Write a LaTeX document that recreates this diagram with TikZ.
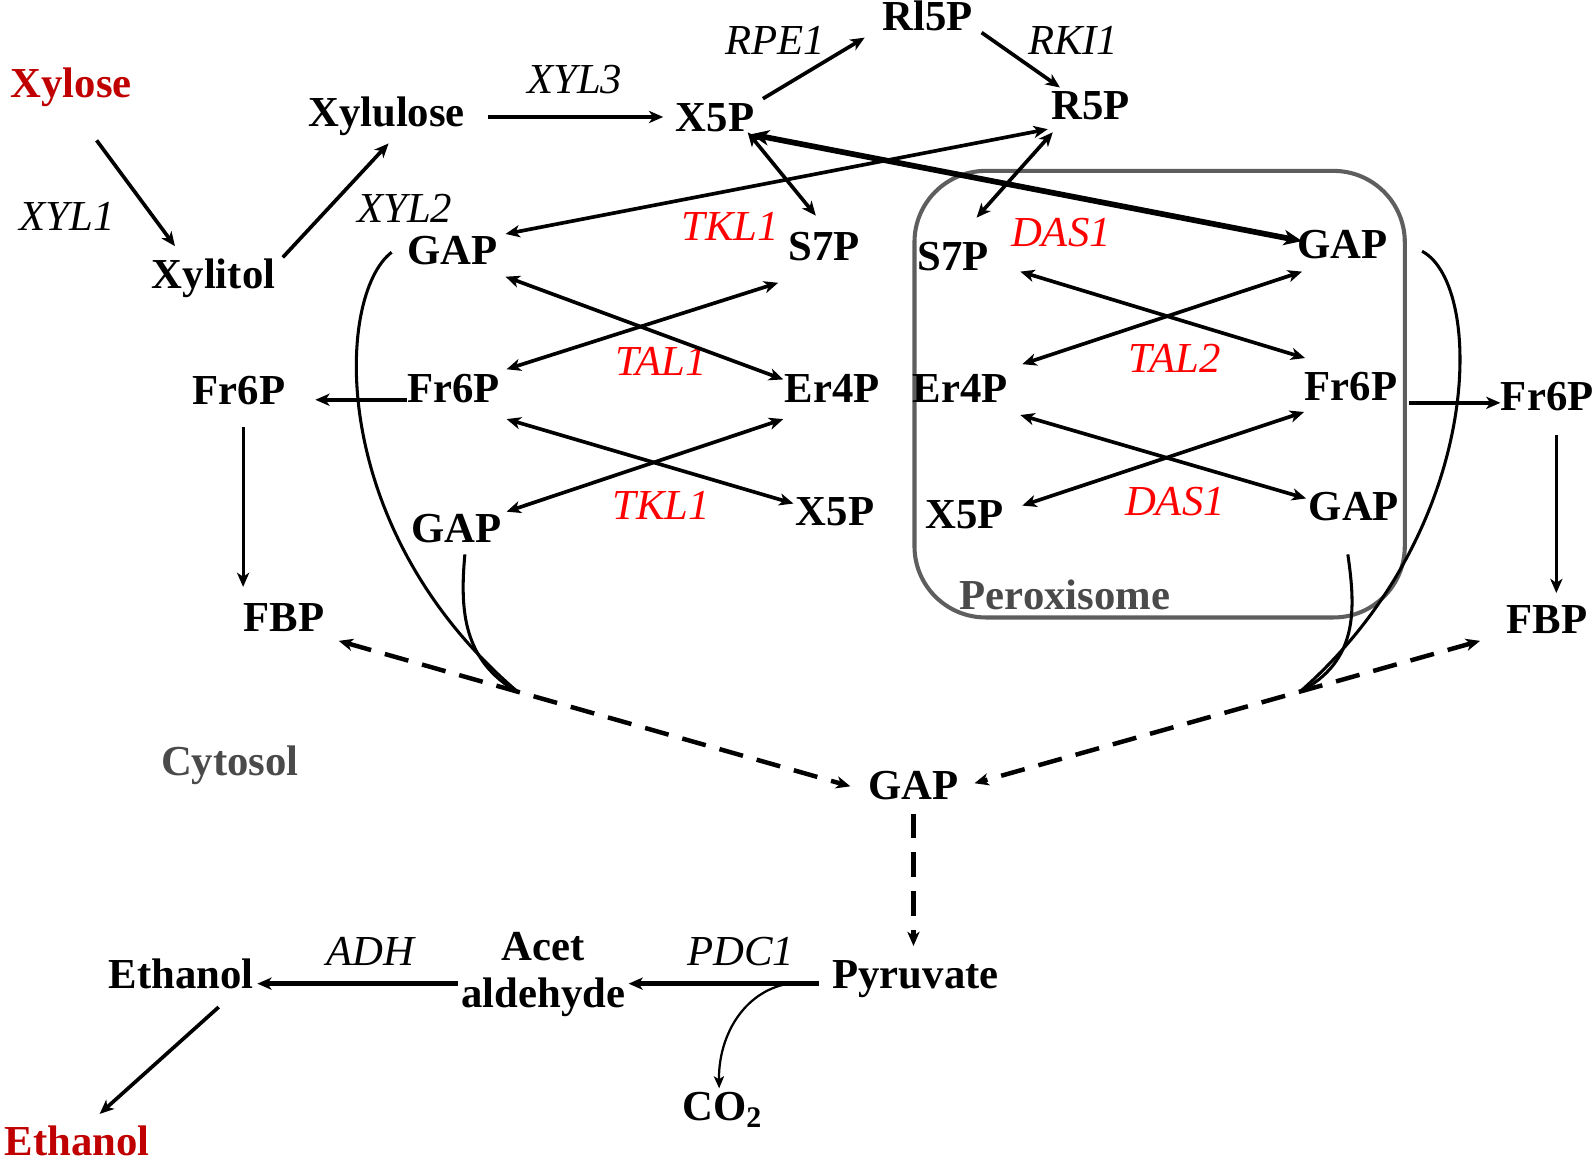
\documentclass[tikz,border=0pt]{standalone}
\usepackage{fontspec}
\setmainfont{Liberation Serif}
\usetikzlibrary{arrows.meta,calc}
\definecolor{dred}{HTML}{C00000}
\definecolor{bred}{HTML}{FF0000}
\definecolor{boxgray}{HTML}{5E5E5E}
\definecolor{txtgray}{HTML}{4A4A4A}
\begin{document}
\begin{tikzpicture}[x=0.5pt,y=-0.5pt,
  mfont/.style={font=\bfseries\fontsize{21}{23}\selectfont, inner sep=0pt},
  m/.style={mfont, text height=14pt, text depth=0pt},
  enz/.style={font=\itshape\fontsize{21}{24}\selectfont, inner sep=0pt, text height=14pt, text depth=0pt},
  renz/.style={enz, text=bred},
  tip/.tip={Stealth[length=7pt,width=6pt,inset=2pt]},
  bigtip/.tip={Stealth[length=9pt,width=7.5pt,inset=2.5pt]},
  arr/.style={line width=1.8pt, -tip},
  tarr/.style={line width=1.4pt, -tip},
  barr/.style={line width=1.8pt, tip-tip},
  thickarr/.style={line width=2.8pt, bigtip-bigtip},
  dasharr/.style={line width=2.2pt, dash pattern=on 12pt off 7pt, tip-tip},
  dasharrone/.style={line width=2.2pt, dash pattern=on 12pt off 7pt, -tip},
  curve/.style={line width=1.5pt}
]
\useasboundingbox (0,0) rectangle (1568,1142);

% peroxisome compartment
\node[draw=boxgray, line width=2pt, rounded corners=35pt, minimum width=241pt, minimum height=219.5pt, inner sep=0pt] (perox) at (1140,387.5) {};
\node[m, text=txtgray] (peroxlab) at (1047,585) {Peroxisome};
\node[m, text=txtgray] (cytolab) at (226,748) {Cytosol};

% metabolites
\node[m, text=dred] (xylose) at (70,82) {Xylose};
\node[m] (xylulose) at (380,110) {Xylulose};
\node[m] (xylitol) at (210,270) {Xylitol};
\node[m] (x5p) at (703,115) {X5P};
\node[m] (rl5p) at (912,16) {Rl5P};
\node[m] (r5p) at (1072,103) {R5P};
\node[m] (gap1) at (445,246) {GAP};
\node[m] (s7pL) at (810,242) {S7P};
\node[m] (s7pR) at (937,252) {S7P};
\node[m] (gapR1) at (1320,240) {GAP};
\node[m] (fr6pFL) at (235,384) {Fr6P};
\node[m] (fr6pL) at (446,382) {Fr6P};
\node[m] (er4pL) at (818,382) {Er4P};
\node[m] (er4pR) at (944,382) {Er4P};
\node[m] (fr6pR) at (1328,380) {Fr6P};
\node[m] (fr6pFR) at (1521,390) {Fr6P};
\node[m] (gap3) at (449,519) {GAP};
\node[m] (x5pL) at (821,503) {X5P};
\node[m] (x5pR) at (948,506) {X5P};
\node[m] (gapR3) at (1331,498) {GAP};
\node[m] (fbpL) at (279,607) {FBP};
\node[m] (fbpR) at (1521,609) {FBP};
\node[m] (gapC) at (898,772) {GAP};
\node[m] (pyr) at (900,958) {Pyruvate};
\node[mfont, anchor=base, align=center] (acet) at (534,990) {Acet\\aldehyde};
\node[m] (eth) at (178,958) {Ethanol};
\node[m, text=dred] (ethR) at (76,1122) {Ethanol};
\node[m] (co2) at (710,1088) {CO\textsubscript{2}};

% enzymes
\node[enz] (xyl1) at (66,213) {XYL1};
\node[enz] (xyl2) at (398,205) {XYL2};
\node[enz] (xyl3) at (565,78) {XYL3};
\node[enz] (rpe1) at (762,40) {RPE1};
\node[enz] (rki1) at (1055,40) {RKI1};
\node[renz] (tkl1a) at (718,222) {TKL1};
\node[renz] (das1a) at (1043,228) {DAS1};
\node[renz] (tal1) at (650,355) {TAL1};
\node[renz] (tal2) at (1155,352) {TAL2};
\node[renz] (tkl1b) at (650,497) {TKL1};
\node[renz] (das1b) at (1155,493) {DAS1};
\node[enz] (adh) at (364,935) {ADH};
\node[enz] (pdc1) at (728,935) {PDC1};

% xylose branch
\draw[arr] ($(xylose)+(25,56)$) -- ($(xylitol)+(-38,-28)$);
\draw[arr] ($(xylitol)+(68,-17)$) -- ($(xylulose)+(2,31)$);
\draw[arr] ($(xylulose)+(100,5)$) -- ($(x5p)+(-51,0)$);
\draw[arr] ($(x5p)+(47,-18)$) -- ($(rl5p)+(-62,21)$);
\draw[arr] ($(rl5p)+(53,16)$) -- ($(r5p)+(-30,-17)$);

% upper links
\draw[barr] ($(x5p)+(32,15)$) -- ($(s7pL)+(-8,-30)$);
\draw[barr] ($(r5p)+(-37,27)$) -- ($(s7pR)+(23,-38)$);
\draw[barr] ($(r5p)+(-42,24)$) -- ($(gap1)+(52,-16)$);
\draw[thickarr] ($(x5p)+(35,17)$) -- ($(gapR1)+(-40,-3)$);

% TAL1 / TKL1 crosses
\draw[barr] ($(gap1)+(52,26)$) -- ($(er4pL)+(-48,-9)$);
\draw[barr] ($(s7pL)+(-45,36)$) -- ($(fr6pL)+(52,-19)$);
\draw[barr] ($(fr6pL)+(52,30)$) -- ($(x5pL)+(-41,-8)$);
\draw[barr] ($(er4pL)+(-48,30)$) -- ($(gap3)+(49,-16)$);

% TAL2 / DAS1 crosses
\draw[barr] ($(s7pR)+(66,15)$) -- ($(fr6pR)+(-45,-28)$);
\draw[barr] ($(gapR1)+(-40,27)$) -- ($(er4pR)+(61,-24)$);
\draw[barr] ($(er4pR)+(59,26)$) -- ($(gapR3)+(-47,-8)$);
\draw[barr] ($(fr6pR)+(-46,25)$) -- ($(x5pR)+(57,-9)$);

% Fr6P -> FBP
\draw[arr] ($(fr6pL)+(-46,11)$) -- ($(fr6pFL)+(75,9)$);
\draw[tarr] ($(fr6pFL)+(4,36)$) -- ($(fbpL)+(-40,-30)$);
\draw[arr] ($(fr6pR)+(57,16)$) -- ($(fr6pFR)+(-46,6)$);
\draw[tarr] ($(fr6pFR)+(9,38)$) -- ($(fbpR)+(9,-26)$);

% dashed glycolysis
\draw[dasharr] ($(fbpL)+(54,23)$) -- ($(gapC)+(-62,1)$);
\draw[dasharr] ($(fbpR)+(-66,21)$) -- ($(gapC)+(60,-2)$);
\draw[dasharrone] ($(gapC)+(0,28)$) -- ($(pyr)+(-2,-28)$);

% GAP collecting curves
\coordinate (jl) at (510,681);
\coordinate (jr) at (1278,680);
\draw[curve] ($(gap1)+(-60,2)$) .. controls (330,290) and (320,520) .. (jl);
\draw[curve] ($(gap3)+(8,26)$) .. controls (452,600) and (455,650) .. (jl);
\draw[curve] ($(gapR1)+(78,7)$) .. controls (1460,280) and (1460,520) .. (jr);
\draw[curve] ($(gapR3)+(-6,47)$) .. controls (1333,600) and (1335,650) .. (jr);

% fermentation
\draw[line width=2.6pt, -tip] ($(pyr)+(-95,9)$) -- ($(acet.east |- pyr)+(3,9)$);
\draw[line width=2.6pt, -tip] ($(acet.west |- eth)+(-3,9)$) -- ($(eth)+(75,9)$);
\draw[arr] ($(eth)+(37,32)$) -- ($(ethR)+(22,-27)$);
\coordinate (jc) at (775,967);
\draw[line width=1.1pt, -{Stealth[length=6pt,width=5pt,inset=1.5pt]}] (jc) .. controls (730,975) and (706,1020) .. ($(co2)+(-3,-18)$);
\end{tikzpicture}
\end{document}
